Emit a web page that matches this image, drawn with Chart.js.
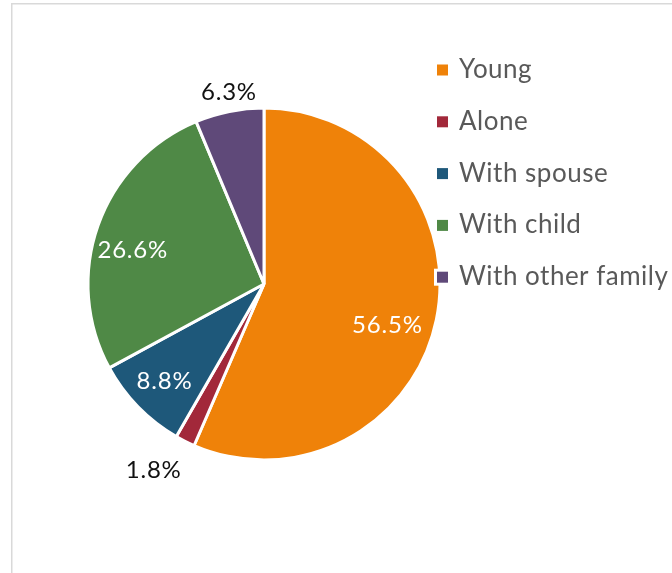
<!DOCTYPE html>
<html>
<head>
<meta charset="utf-8">
<script src="https://cdn.jsdelivr.net/npm/chart.js@4/dist/chart.umd.min.js"></script>
<style>
  html, body { margin: 0; padding: 0; background: #ffffff; }
  canvas { display: block; }
</style>
</head>
<body>
<canvas id="chart" width="672" height="573"></canvas>
<script>
// Living arrangement shares, clockwise from 12 o'clock
const categories = ['Young', 'Alone', 'With spouse', 'With child', 'With other family'];
const shares = [56.5, 1.8, 8.8, 26.6, 6.3];
const sliceColors = ['#EF8209', '#A2283A', '#1E587A', '#4F8946', '#5F4979'];

// Where each value label sits: inside or outside the slice, distance as a fraction
// of the radius, and a small turn (degrees) away from the slice bisector.
const labelPlacement = [
  { inside: true,  dist: 0.74, turn: 7 },
  { inside: false, dist: 1.23, turn: 4 },
  { inside: true,  dist: 0.79, turn: 0 },
  { inside: true,  dist: 0.77, turn: -5 },
  { inside: false, dist: 1.11, turn: 1 }
];

const FONT = 'Lato, "Open Sans", sans-serif';

// Thin grey frame around the plot
const framePlugin = {
  id: 'frame',
  beforeDraw(chart) {
    const ctx = chart.ctx;
    ctx.save();
    ctx.strokeStyle = '#d9d9d9';
    ctx.lineWidth = 1.5;
    ctx.beginPath();
    ctx.moveTo(11.75, chart.height + 5);
    ctx.lineTo(11.75, 3.75);
    ctx.lineTo(chart.width + 5, 3.75);
    ctx.stroke();
    ctx.restore();
  }
};

// Percentage labels placed from each arc's own geometry
const valueLabelPlugin = {
  id: 'valueLabels',
  afterDatasetsDraw(chart) {
    const ctx = chart.ctx;
    const meta = chart.getDatasetMeta(0);
    ctx.save();
    ctx.font = '24px ' + FONT;
    ctx.letterSpacing = '0.8px';
    ctx.textAlign = 'center';
    ctx.textBaseline = 'middle';
    meta.data.forEach((arc, i) => {
      const p = labelPlacement[i];
      const mid = (arc.startAngle + arc.endAngle) / 2 + p.turn * Math.PI / 180;
      const r = arc.outerRadius * p.dist;
      const x = arc.x + Math.cos(mid) * r;
      const y = arc.y + Math.sin(mid) * r;
      ctx.fillStyle = p.inside ? '#ffffff' : '#111111';
      ctx.fillText(shares[i].toFixed(1) + '%', x, y);
    });
    ctx.restore();
  }
};

// Legend to the right of the pie
const legendPlugin = {
  id: 'sideLegend',
  afterDraw(chart) {
    const ctx = chart.ctx;
    const area = chart.chartArea;
    const left = area.right - 3;
    const top = 70;
    const step = 51.8;
    const box = 11;
    ctx.save();
    ctx.font = '26px ' + FONT;
    ctx.letterSpacing = '0.5px';
    ctx.textAlign = 'left';
    ctx.textBaseline = 'alphabetic';
    categories.forEach((name, i) => {
      const cy = top + i * step;
      ctx.fillStyle = '#ffffff';
      ctx.fillRect(left - 3, cy - box / 2 - 3, box + 6, box + 6);
      ctx.fillStyle = sliceColors[i];
      ctx.fillRect(left, cy - box / 2, box, box);
      ctx.fillStyle = '#595959';
      ctx.fillText(name, left + 22, cy + 8);
    });
    ctx.restore();
  }
};

new Chart(document.getElementById('chart'), {
  type: 'pie',
  data: {
    labels: categories,
    datasets: [{
      data: shares,
      backgroundColor: sliceColors,
      borderColor: '#ffffff',
      borderWidth: 3
    }]
  },
  options: {
    responsive: false,
    animation: false,
    devicePixelRatio: 1,
    radius: 176,
    layout: { padding: { left: 88, top: 108, right: 232, bottom: 113 } },
    plugins: {
      legend: { display: false },
      tooltip: { enabled: false },
      title: { display: false }
    }
  },
  plugins: [framePlugin, valueLabelPlugin, legendPlugin]
});
</script>
</body>
</html>
